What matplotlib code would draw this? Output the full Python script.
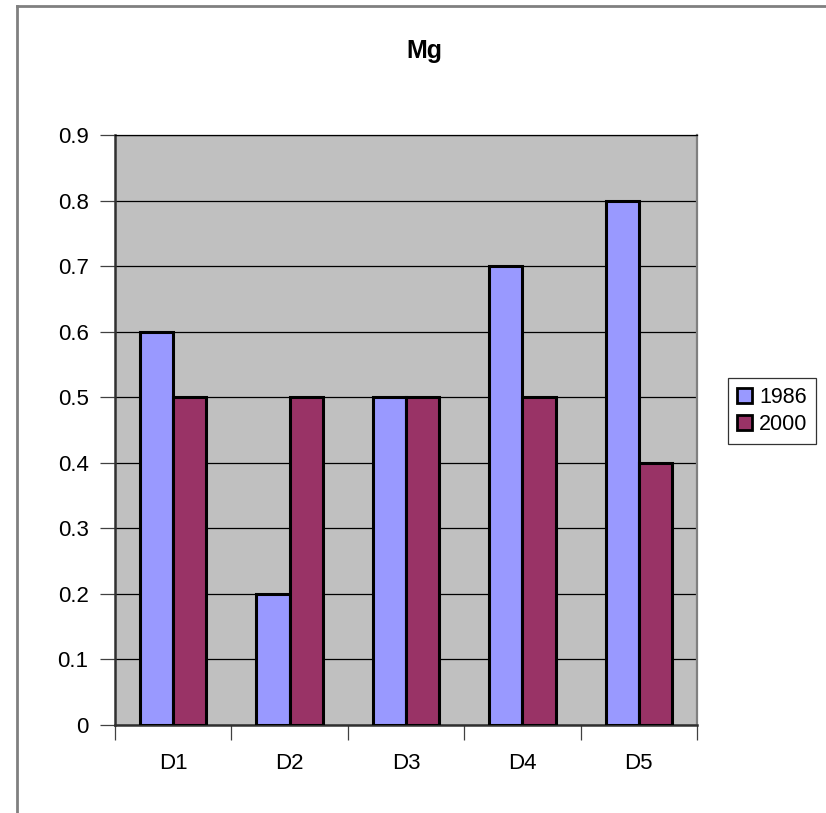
import numpy as np
import matplotlib
matplotlib.use("Agg")
import matplotlib.pyplot as plt
from matplotlib.lines import Line2D

plt.rcParams["font.family"] = ["Liberation Sans", "DejaVu Sans"]

# ── Data ──────────────────────────────────────────────────────────────────────
categories = ["D1", "D2", "D3", "D4", "D5"]
years      = ["1986", "2000"]
mg_1986    = [0.6, 0.2, 0.5, 0.7, 0.8]
mg_2000    = [0.5, 0.5, 0.5, 0.5, 0.4]
y_ticks    = [0, 0.1, 0.2, 0.3, 0.4, 0.5, 0.6, 0.7, 0.8, 0.9]

colors = {"1986": "#9999FF", "2000": "#993366"}

W, H = 826, 813
fig = plt.figure(figsize=(W / 100, H / 100), dpi=100)
fig.patch.set_facecolor("white")

# chart-area border (top and left edges only visible)
fig.add_artist(Line2D([17 / W, 17 / W], [0, 1 - 6 / H], transform=fig.transFigure,
                      color="#808080", linewidth=2))
fig.add_artist(Line2D([17 / W, 1], [1 - 6 / H, 1 - 6 / H], transform=fig.transFigure,
                      color="#808080", linewidth=2))

ax = fig.add_axes([115 / W, (H - 725) / H, 582 / W, 590 / H])
ax.set_facecolor("#C0C0C0")

x = np.arange(len(categories))
bar_w = 1 / 3.5  # Excel-style gap width 150%
ax.bar(x - bar_w / 2, mg_1986, width=bar_w, color=colors["1986"],
       edgecolor="black", linewidth=2.2, label=years[0], zorder=3)
ax.bar(x + bar_w / 2, mg_2000, width=bar_w, color=colors["2000"],
       edgecolor="black", linewidth=2.2, label=years[1], zorder=3)

ax.set_xlim(-0.5, len(categories) - 0.5)
ax.set_ylim(0, 0.9)
ax.set_yticks(y_ticks)
ax.set_yticklabels([f"{v:g}" for v in y_ticks], fontsize=16)
ax.yaxis.grid(True, color="black", linewidth=0.9, zorder=1)
ax.set_axisbelow(True)

# category labels centred, tick marks at category boundaries
ax.set_xticks(x)
ax.set_xticklabels(categories, fontsize=16)
ax.tick_params(axis="x", which="major", length=0, pad=20)
ax.set_xticks(np.arange(-0.5, len(categories)), minor=True)
ax.tick_params(axis="x", which="minor", length=11, width=0.9, color="#404040")
ax.tick_params(axis="y", length=11, width=0.9, color="#404040", pad=8)

for side in ["left", "bottom"]:
    ax.spines[side].set_color("#303030")
    ax.spines[side].set_linewidth(1.8)
ax.spines["right"].set_color("#808080")
ax.spines["right"].set_linewidth(1.6)
ax.spines["top"].set_color("black")
ax.spines["top"].set_linewidth(0.9)

fig.text(424 / W, 1 - 58 / H, "Mg", ha="center", va="baseline",
         fontsize=18, fontweight="bold")

leg = fig.legend(loc="center", bbox_to_anchor=(772 / W, 1 - 411 / H),
                 fontsize=15.5, frameon=True, fancybox=False,
                 handlelength=0.7, handleheight=0.7, handletextpad=0.35,
                 borderpad=0.4, labelspacing=0.3, borderaxespad=0)
leg.get_frame().set_edgecolor("black")
leg.get_frame().set_linewidth(0.9)
for patch in leg.get_patches():
    patch.set_linewidth(2.0)

fig.savefig("out.png", dpi=100)
